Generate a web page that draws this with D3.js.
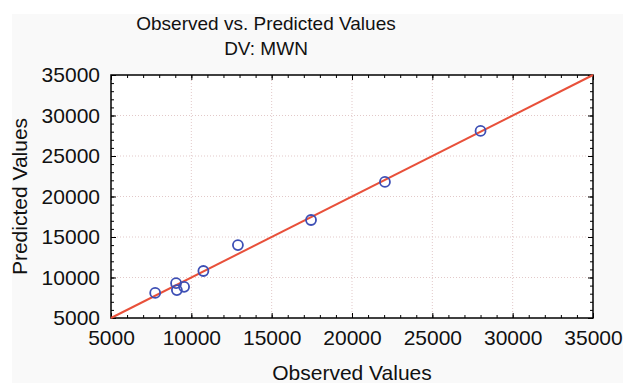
<!DOCTYPE html>
<html>
<head>
<meta charset="utf-8">
<script src="https://cdn.jsdelivr.net/npm/d3@7"></script>
<style>
  body { margin: 0; background: #fff; }
  text { font-family: "Liberation Sans", Arial, sans-serif; fill: #111; }
</style>
</head>
<body>
<div id="chart"></div>
<script>
var width = 623,
    height = 383,
    margin = {top: 75, right: 30, bottom: 65, left: 111};

// observed vs predicted
var observed  = [7750, 9050, 9100, 9550, 10750, 12900, 17450, 22050, 28000];
var predicted = [8100, 9300, 8450, 8850, 10800, 14000, 17100, 21800, 28100];
var fitLine = [5000, 35000];
var tickValues = [5000, 10000, 15000, 20000, 25000, 30000, 35000];

var svg = d3.select('#chart').append('svg')
    .attr('width', width)
    .attr('height', height);

// faint grey page behind the chart
svg.append('rect')
    .attr('x', 12).attr('y', 14)
    .attr('width', width - 12).attr('height', height - 14)
    .attr('fill', '#f9f9f9');

var x = d3.scaleLinear().domain([5000, 35000]).range([margin.left, width - margin.right]);
var y = d3.scaleLinear().domain([5000, 35000]).range([height - margin.bottom, margin.top]);

var minor = d3.range(5000, 35001, 1000);

svg.append('rect')
    .attr('x', x(5000)).attr('y', y(35000))
    .attr('width', x(35000) - x(5000))
    .attr('height', y(5000) - y(35000))
    .attr('fill', '#fff');

// dotted grid
var grid = svg.append('g')
    .attr('stroke', '#e2c9c9')
    .attr('stroke-width', 1)
    .attr('stroke-dasharray', '1,2');

grid.selectAll('.gx').data(tickValues.slice(1, -1)).enter().append('line')
    .attr('x1', function(d) { return x(d); }).attr('x2', function(d) { return x(d); })
    .attr('y1', y(5000)).attr('y2', y(35000));

grid.selectAll('.gy').data(tickValues.slice(1, -1)).enter().append('line')
    .attr('y1', function(d) { return y(d); }).attr('y2', function(d) { return y(d); })
    .attr('x1', x(5000)).attr('x2', x(35000));

// axes, ticks pointing inside on all four sides
function styleAxis(g) {
  g.select('.domain').remove();
  g.selectAll('line').attr('stroke', '#000').attr('stroke-width', 1);
}

var fmt = d3.format('d');

svg.append('g')
    .attr('transform', 'translate(0,' + y(5000) + ')')
    .call(d3.axisBottom(x).tickValues(minor).tickSize(-3).tickFormat(''))
    .call(styleAxis);
svg.append('g')
    .attr('transform', 'translate(0,' + y(5000) + ')')
    .call(d3.axisBottom(x).tickValues(tickValues).tickSize(-5).tickPadding(12).tickFormat(fmt))
    .call(styleAxis)
    .selectAll('text').attr('font-size', 21).attr('dy', '0.71em');

svg.append('g')
    .attr('transform', 'translate(0,' + y(35000) + ')')
    .call(d3.axisTop(x).tickValues(minor).tickSize(-3).tickFormat(''))
    .call(styleAxis);
svg.append('g')
    .attr('transform', 'translate(0,' + y(35000) + ')')
    .call(d3.axisTop(x).tickValues(tickValues).tickSize(-5).tickFormat(''))
    .call(styleAxis);

svg.append('g')
    .attr('transform', 'translate(' + x(5000) + ',0)')
    .call(d3.axisLeft(y).tickValues(minor).tickSize(-3).tickFormat(''))
    .call(styleAxis);
svg.append('g')
    .attr('transform', 'translate(' + x(5000) + ',0)')
    .call(d3.axisLeft(y).tickValues(tickValues).tickSize(-5).tickPadding(11).tickFormat(fmt))
    .call(styleAxis)
    .selectAll('text').attr('font-size', 21);

svg.append('g')
    .attr('transform', 'translate(' + x(35000) + ',0)')
    .call(d3.axisRight(y).tickValues(minor).tickSize(-3).tickFormat(''))
    .call(styleAxis);
svg.append('g')
    .attr('transform', 'translate(' + x(35000) + ',0)')
    .call(d3.axisRight(y).tickValues(tickValues).tickSize(-5).tickFormat(''))
    .call(styleAxis);

// frame
svg.append('rect')
    .attr('x', x(5000)).attr('y', y(35000))
    .attr('width', x(35000) - x(5000))
    .attr('height', y(5000) - y(35000))
    .attr('fill', 'none')
    .attr('stroke', '#000')
    .attr('stroke-width', 1.5);

// fit line
svg.append('line')
    .attr('x1', x(fitLine[0])).attr('y1', y(fitLine[0]))
    .attr('x2', x(fitLine[1])).attr('y2', y(fitLine[1]))
    .attr('stroke', '#e8503a')
    .attr('stroke-width', 2);

// points
svg.selectAll('.pt').data(observed).enter().append('circle')
    .attr('cx', function(d) { return x(d); })
    .attr('cy', function(d, i) { return y(predicted[i]); })
    .attr('r', 5)
    .attr('fill', 'none')
    .attr('stroke', '#3d4fb5')
    .attr('stroke-width', 1.8);

// titles
svg.append('text')
    .attr('x', 266).attr('y', 30)
    .attr('text-anchor', 'middle')
    .attr('font-size', 19)
    .text('Observed vs. Predicted Values');
svg.append('text')
    .attr('x', 266).attr('y', 55)
    .attr('text-anchor', 'middle')
    .attr('font-size', 19)
    .text('DV: MWN');

svg.append('text')
    .attr('x', x(20000)).attr('y', 380)
    .attr('text-anchor', 'middle')
    .attr('font-size', 21)
    .text('Observed Values');

svg.append('text')
    .attr('transform', 'translate(27,' + y(20000) + ') rotate(-90)')
    .attr('text-anchor', 'middle')
    .attr('font-size', 21)
    .text('Predicted Values');
</script>
</body>
</html>
